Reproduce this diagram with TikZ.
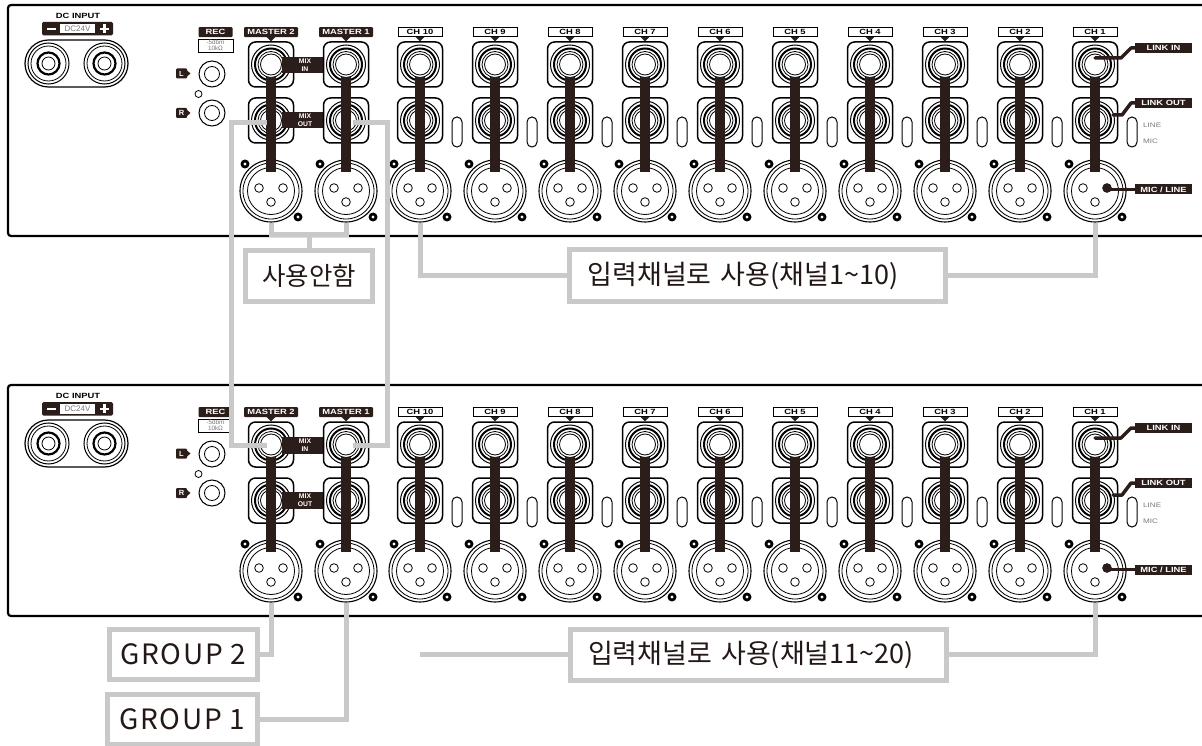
\documentclass[tikz,border=0pt]{standalone}
\usepackage{fontspec}
\setmainfont{Liberation Sans}
\newfontfamily\kr{Noto Sans CJK KR}
\newfontfamily\krw{Noto Sans CJK KR}[LetterSpace=6]
\usetikzlibrary{calc}
\definecolor{wire}{HTML}{C9C9C9}
\definecolor{bar}{HTML}{2B1D1A}
\definecolor{ink}{HTML}{231815}
\definecolor{soft}{HTML}{7A7A7A}
\newcommand{\wide}[1]{\scalebox{1.25}[1]{#1}}
\tikzset{
  jackbox/.style={draw, line width=1.5pt, fill=white, rounded corners=7pt, minimum width=45pt, minimum height=45pt, inner sep=0pt},
  xlrbody/.style={circle, draw, line width=1.1pt, fill=white, minimum size=62pt, inner sep=0pt},
  wirel/.style={draw=wire, line width=5pt},
  callout/.style={draw=wire, line width=5pt, fill=white, inner sep=0pt, text=ink},
  tinyb/.style={font=\bfseries\fontsize{7.5}{7.5}\selectfont, inner sep=0pt},
  bandtxt/.style={font=\bfseries\fontsize{6.8}{6.8}\selectfont, inner sep=0pt, text=white, align=center},
  chlabel/.style={tinyb, draw, line width=0.9pt, fill=white, minimum width=44pt, minimum height=9pt},
  mlabel/.style={tinyb, fill=bar, text=white, rounded corners=1pt, minimum width=54pt, minimum height=10pt},
  blabel/.style={tinyb, fill=bar, text=white, minimum width=57pt, minimum height=10pt},
  signal/.style={draw=bar, line width=3.5pt, line cap=round, line join=round},
}
\newcommand{\tjack}[1]{%
  \node[jackbox] at (#1) {};
  \draw[line width=1pt, fill=white] (#1) circle (19.5pt);
  \draw[line width=2pt] (#1) circle (16pt);
  \draw[line width=0.8pt] (#1) circle (13pt);
  \draw[line width=0.8pt] (#1) circle (10.5pt);
}
\newcommand{\xlr}[2]{%
  \node[xlrbody] (#2) at (#1,191) {};
  \draw[line width=0.8pt] (#1,191) circle (28pt);
  \draw[line width=0.8pt] (#1,191) circle (23.5pt);
  \foreach \dx/\dy in {-12/-3, 12/-3, 0/11}
    \draw[line width=0.8pt, fill=white] ($(#1,191)+(\dx,\dy)$) circle (4.3pt);
  \foreach \dx/\dy in {-26/-27, 27/26} {
    \fill ($(#1,191)+(\dx,\dy)$) circle (4.5pt);
    \fill[white] ($(#1,191)+(\dx,\dy)$) circle (1.7pt);
  }
}
\newcommand{\column}[4]{%
  \node[#4] at (#1,32.2) {\wide{#3}};
  \fill[bar] (#1-4.5,36.8) -- (#1+4.5,36.8) -- (#1,41.5) -- cycle;
  \tjack{#1,64.5}
  \tjack{#1,120.5}
  \xlr{#1}{#2}
  \fill[bar] (#1-5,77) rectangle (#1+5,172);
}
\newcommand{\panel}[2]{%
\begin{scope}[shift={(0,#1)}]
  \draw[line width=2.2pt, rounded corners=3pt] (1215,5) -- (8,5) -- (8,236) -- (1215,236);
  % DC input
  \node[tinyb] at (78,15.5) {\wide{DC INPUT}};
  \fill[bar, rounded corners=1.5pt] (42,22) rectangle (113,35.5);
  \fill[white] (60,24) rectangle (95,33.5);
  \node[font=\fontsize{8}{8}\selectfont, text=soft, inner sep=0pt] at (77.5,28.8) {DC24V};
  \fill[white] (46.5,27.7) rectangle (55.5,30);
  \fill[white] (100,27.7) rectangle (109,30);
  \fill[white] (103.3,24.4) rectangle (105.7,33.3);
  \draw[line width=1.2pt, rounded corners=23.5pt] (25,40) rectangle (128,87);
  \foreach \x in {48.5,104.5} {
    \draw[line width=1pt] (\x,63.5) circle (20.5pt);
    \draw[line width=0.8pt] (\x,63.5) circle (17.5pt);
    \draw[line width=2.2pt] (\x,63.5) circle (11pt);
    \draw[line width=0.8pt] (\x,63.5) circle (6.5pt);
  }
  % REC
  \node[mlabel, minimum width=34pt] at (215.5,32.2) {\wide{REC}};
  \draw[line width=0.7pt] (198,39) rectangle (233,52);
  \node[font=\fontsize{6.3}{6.3}\selectfont, text=soft, align=center, inner sep=0pt] at (215.5,45.5) {-5dbm\\10kΩ};
  \foreach \y in {74,113} {
    \draw[line width=1pt] (212,\y) circle (13pt);
    \draw[line width=0.8pt] (212,\y) circle (7.5pt);
  }
  \draw[line width=0.8pt] (198.5,94) circle (3.5pt);
  \foreach \y/\t in {73.5/L,113/R} {
    \fill[bar, rounded corners=1pt] (176,\y-5) rectangle (187,\y+5);
    \fill[bar] (187,\y-3) -- (190.5,\y) -- (187,\y+3) -- cycle;
    \node[tinyb, text=white] at (181.5,\y) {\t};
  }
  % masters
  \column{271}{#2xm2}{MASTER 2}{mlabel}
  \fill[bar] (282,57) rectangle (335,73.5);
  \node[bandtxt] at (305,65.2) {MIX\\[0.3pt]IN};
  \fill[bar] (282,112) rectangle (335,128.5);
  \node[bandtxt] at (305,120.2) {MIX\\[0.3pt]OUT};
  \column{346}{#2xm1}{MASTER 1}{mlabel}
  % channels
  \foreach \i in {1,...,10} {
    \pgfmathsetmacro\cx{1095-75*(\i-1)}
    \column{\cx}{#2x\i}{CH \i}{chlabel}
    \draw[line width=1pt, rounded corners=4.9pt] (\cx+32,117) rectangle (\cx+42,147);
  }
  % CH1 extras
  \node[blabel] at (1163.5,48) {\wide{LINK IN}};
  \draw[signal] (1095,58) -- (1121,58) -- (1131,48) -- (1136,48);
  \node[blabel] at (1163.5,103) {\wide{LINK OUT}};
  \draw[signal] (1113,115) -- (1122,115) -- (1131,103) -- (1136,103);
  \node[blabel] at (1163.5,189.5) {\wide{MIC / LINE}};
  \fill[bar] (1107,188) circle (4.5pt);
  \draw[signal, line cap=butt] (1107,189.5) -- (1136,189.5);
  \node[font=\fontsize{6.5}{6.5}\selectfont, text=soft, anchor=west, inner sep=0pt] at (1143,125) {\wide{LINE}};
  \node[font=\fontsize{6.5}{6.5}\selectfont, text=soft, anchor=west, inner sep=0pt] at (1143,141) {\wide{MIC}};
  % wire ends
  \coordinate (#2pm2out) at (267,123);
  \coordinate (#2pm1out) at (353,123);
  \coordinate (#2pm2in) at (267,65);
  \coordinate (#2pm1in) at (353,65);
\end{scope}}

\begin{document}
\begin{tikzpicture}[x=1pt,y=-1pt]
\useasboundingbox (0,0) rectangle (1202,746);
\fill[white] (0,0) rectangle (1202,746);
\panel{0}{A}
\panel{380}{B}
% top: unused masters
\node[callout, minimum width=127pt, minimum height=51pt, font=\kr\fontsize{25.5}{25.5}\selectfont] (unused) at (309,276) {사용안함};
\draw[wirel] (Axm2.south) |- (309,235) coordinate (bj) -| (Axm1.south);
\draw[wirel] (bj) -- (unused.north);
% top: input channels
\node[callout, minimum width=376pt, minimum height=52pt, text width=340pt, align=left, font=\kr\fontsize{27}{27}\selectfont] (inA) at (757.5,275.5) {입력채널로 사용(채널1\textasciitilde10)};
\draw[wirel] (Ax10.south) |- (inA.west);
\draw[wirel] (inA.east) -| (Ax1.south);
% mix out -> mix in
\draw[wirel] (Apm2out) -- ++(-36,0) |- (Bpm2in);
\draw[wirel] (Apm1out) -- ++(34,0) |- (Bpm1in);
% bottom: groups
\node[callout, minimum width=148pt, minimum height=50pt, font=\krw\fontsize{28}{28}\selectfont] (g2) at (183.5,654.5) {GROUP 2};
\node[callout, minimum width=150pt, minimum height=50pt, font=\krw\fontsize{28}{28}\selectfont] (g1) at (182.5,719) {GROUP 1};
\draw[wirel] (Bxm2.south) |- (g2.east);
\draw[wirel] (Bxm1.south) |- (g1.east);
% bottom: input channels
\node[callout, minimum width=376pt, minimum height=51pt, text width=340pt, align=left, font=\kr\fontsize{27}{27}\selectfont] (inB) at (758,654.5) {입력채널로 사용(채널11\textasciitilde20)};
\coordinate (freeB) at (420,654.5);
\draw[wirel] (freeB) -- (inB.west);
\draw[wirel] (inB.east) -| (Bx1.south);
\end{tikzpicture}
\end{document}
